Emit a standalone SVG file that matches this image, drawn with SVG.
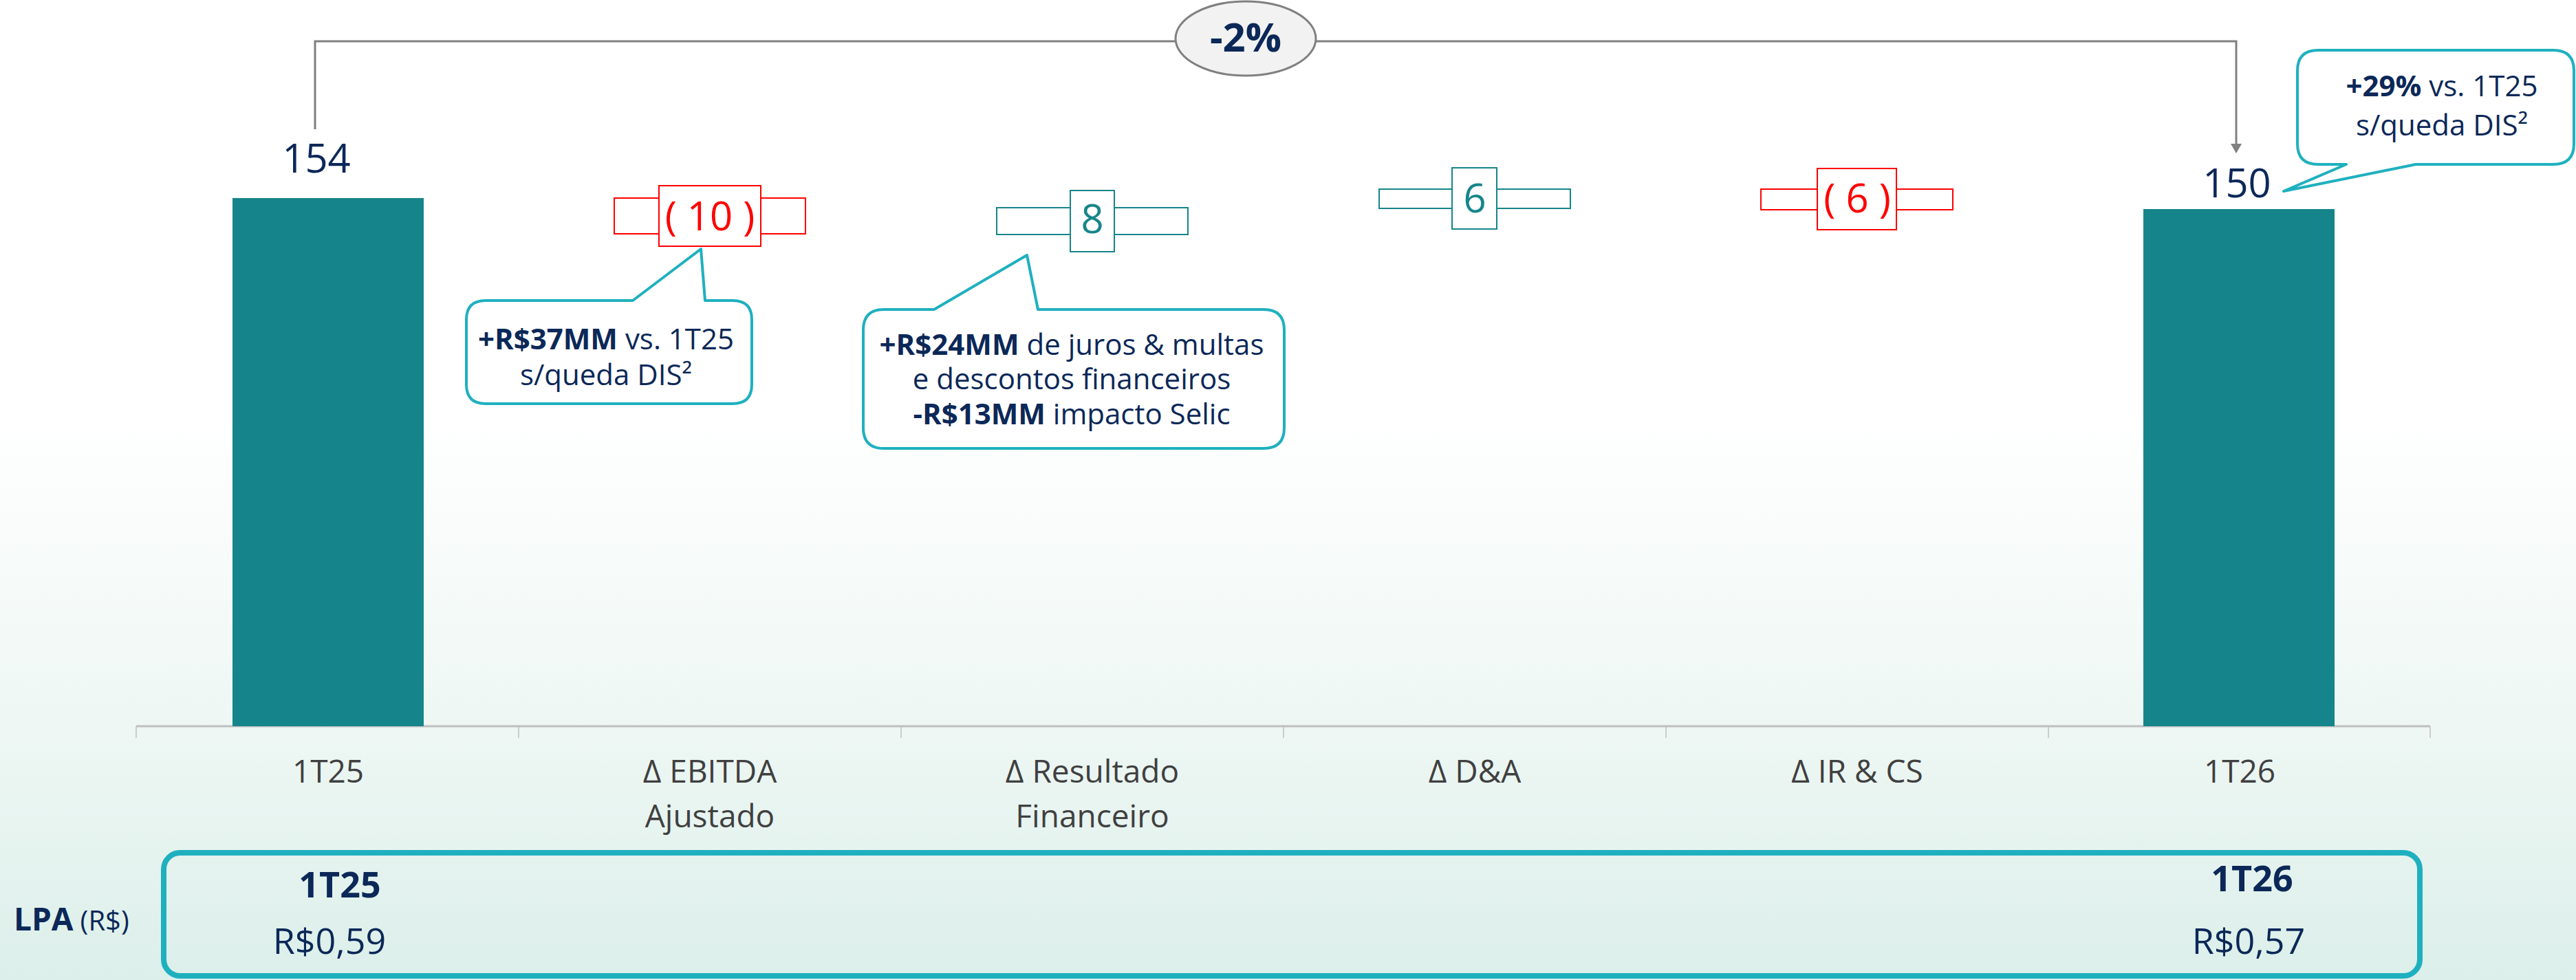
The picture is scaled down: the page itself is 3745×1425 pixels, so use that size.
<svg xmlns="http://www.w3.org/2000/svg" width="3745" height="1425" viewBox="0 0 3745 1425">
  <defs>
    <linearGradient id="bg" x1="0" y1="0" x2="0" y2="1">
      <stop offset="0" stop-color="#ffffff"/>
      <stop offset="0.42" stop-color="#ffffff"/>
      <stop offset="0.74" stop-color="#eef7f4"/>
      <stop offset="1" stop-color="#dcefea"/>
    </linearGradient>
    <style>
      text { font-family: "Open Sans", "Noto Sans", "Liberation Sans", sans-serif; }
      .bar { fill: #16858b; }
      .val { font-size: 58px; fill: #0b2858; text-anchor: middle; }
      .cat { font-size: 46px; fill: #404040; text-anchor: middle; }
      .neg { fill: #ffffff; stroke: #ff0000; stroke-width: 2; }
      .pos { fill: #ffffff; stroke: #16858b; stroke-width: 2; }
      .negt { font-size: 58px; fill: #ff0000; text-anchor: middle; }
      .post { font-size: 58px; fill: #16858b; text-anchor: middle; }
      .call { fill: #ffffff; stroke: #1fb0bf; stroke-width: 4; stroke-linejoin: round; }
      .ct { font-size: 42px; fill: #0b2858; text-anchor: middle; }
      .b { font-weight: 700; }
      .axis { stroke: #bfbfbf; stroke-width: 3; fill: none; }
      .tick { stroke: #bfbfbf; stroke-width: 1.5; fill: none; }
      .brk { stroke: #808080; stroke-width: 3; fill: none; }
      .lpa { font-size: 52px; fill: #0b2858; text-anchor: middle; }
    </style>
  </defs>

  <rect x="0" y="0" width="3745" height="1425" fill="url(#bg)"/>

  <g id="axis">
    <line class="axis" x1="198" y1="1056" x2="3533" y2="1056"/>
    <line class="tick" x1="198" y1="1056" x2="198" y2="1073"/>
    <line class="tick" x1="754" y1="1056" x2="754" y2="1073"/>
    <line class="tick" x1="1310" y1="1056" x2="1310" y2="1073"/>
    <line class="tick" x1="1866" y1="1056" x2="1866" y2="1073"/>
    <line class="tick" x1="2422" y1="1056" x2="2422" y2="1073"/>
    <line class="tick" x1="2978" y1="1056" x2="2978" y2="1073"/>
    <line class="tick" x1="3533" y1="1056" x2="3533" y2="1073"/>
  </g>

  <g id="connectors">
    <polyline class="brk" points="458,188 458,60 3251,60 3251,209"/>
    <path d="M3243,209 L3259,209 L3251,223 Z" fill="#808080"/>
  </g>

  <g id="var-badge">
    <ellipse cx="1811" cy="56" rx="102" ry="54" fill="#f2f2f2" stroke="#808080" stroke-width="3"/>
    <text x="1811" y="75" font-size="58" font-weight="700" fill="#0b2858" text-anchor="middle">-2%</text>
  </g>

  <g id="bar-1T25">
    <rect class="bar" x="338" y="288" width="278" height="768"/>
    <text class="val" x="460" y="251">154</text>
    <text class="cat" x="477" y="1138">1T25</text>
  </g>

  <g id="step-ebitda">
    <rect class="neg" x="893" y="288" width="278" height="52"/>
    <rect class="neg" x="958" y="270" width="148" height="88"/>
    <text class="negt" x="1032" y="335">( 10 )</text>
    <text class="cat" x="1032" y="1138">Δ EBITDA</text>
    <text class="cat" x="1032" y="1203">Ajustado</text>
  </g>

  <g id="step-financeiro">
    <rect class="pos" x="1449" y="302" width="278" height="39"/>
    <rect class="pos" x="1556" y="277" width="64" height="89"/>
    <text class="post" x="1588" y="339">8</text>
    <text class="cat" x="1588" y="1138">Δ Resultado</text>
    <text class="cat" x="1588" y="1203">Financeiro</text>
  </g>

  <g id="step-da">
    <rect class="pos" x="2005" y="275" width="278" height="28"/>
    <rect class="pos" x="2111" y="244" width="65" height="89"/>
    <text class="post" x="2144" y="309">6</text>
    <text class="cat" x="2144" y="1138">Δ D&amp;A</text>
  </g>

  <g id="step-ir">
    <rect class="neg" x="2560" y="275" width="279" height="30"/>
    <rect class="neg" x="2642" y="245" width="115" height="89"/>
    <text class="negt" x="2700" y="309">( 6 )</text>
    <text class="cat" x="2700" y="1138">Δ IR &amp; CS</text>
  </g>

  <g id="bar-1T26">
    <rect class="bar" x="3116" y="304" width="278" height="752"/>
    <text class="val" x="3252" y="287">150</text>
    <text class="cat" x="3256" y="1138">1T26</text>
  </g>

  <g id="callout-ebitda">
    <path class="call" d="M706,437 L920,437 L1019,362 L1025,437 L1065,437 Q1093,437 1093,465 L1093,559 Q1093,587 1065,587 L706,587 Q678,587 678,559 L678,465 Q678,437 706,437 Z"/>
    <text class="ct" x="881" y="508"><tspan class="b">+R$37MM</tspan> vs. 1T25</text>
    <text class="ct" x="881" y="560">s/queda DIS²</text>
  </g>

  <g id="callout-financeiro">
    <path class="call" d="M1285,450 L1358,450 L1493,371 L1509,450 L1837,450 Q1867,450 1867,480 L1867,622 Q1867,652 1837,652 L1285,652 Q1255,652 1255,622 L1255,480 Q1255,450 1285,450 Z"/>
    <text class="ct" x="1558" y="516"><tspan class="b">+R$24MM</tspan> de juros &amp; multas</text>
    <text class="ct" x="1558" y="566">e descontos financeiros</text>
    <text class="ct" x="1558" y="617"><tspan class="b">-R$13MM</tspan> impacto Selic</text>
  </g>

  <g id="callout-1T26">
    <path class="call" d="M3370,73 L3712,73 Q3742,73 3742,103 L3742,209 Q3742,239 3712,239 L3512,239 L3320,278 L3411,239 L3370,239 Q3340,239 3340,209 L3340,103 Q3340,73 3370,73 Z"/>
    <text class="ct" x="3550" y="140" font-size="48"><tspan class="b">+29%</tspan> vs. 1T25</text>
    <text class="ct" x="3550" y="197" font-size="48">s/queda DIS²</text>
  </g>

  <g id="lpa-panel">
    <rect x="238" y="1240" width="3280" height="179" rx="24" ry="24" fill="none" stroke="#1fb0bf" stroke-width="8"/>
    <text x="20" y="1353" font-size="46" fill="#0b2858"><tspan font-weight="700">LPA</tspan><tspan font-size="40" dx="10">(R$)</tspan></text>
    <text class="lpa b" x="494" y="1305">1T25</text>
    <text class="lpa" x="479" y="1387">R$0,59</text>
    <text class="lpa b" x="3274" y="1296">1T26</text>
    <text class="lpa" x="3269" y="1387">R$0,57</text>
  </g>
</svg>
